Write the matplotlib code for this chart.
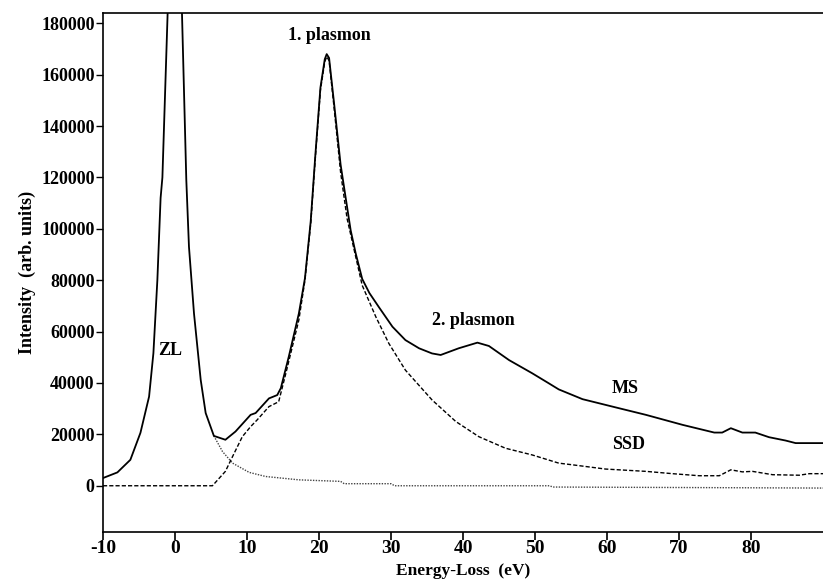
import matplotlib
matplotlib.use("Agg")
import matplotlib.pyplot as plt

plt.rcParams['font.family'] = ['Liberation Serif', 'DejaVu Serif']
plt.rcParams['font.weight'] = 'bold'
plt.rcParams['axes.unicode_minus'] = False

# Multiple scattering spectrum (MS)
ms_x = [-10.0, -8.0, -6.2, -4.8, -3.6, -3.0, -2.45, -2.0, -1.75, -1.0, 0.0, 0.95, 1.57, 1.94, 2.64, 3.57, 4.26,
        5.4, 7.0, 8.4, 10.5, 11.2, 13.05, 14.2, 14.7, 15.8, 17.2, 18.05, 18.85, 19.5, 20.2, 20.8, 21.07, 21.4,
        22.1, 23.0, 23.9, 24.4, 25.1, 26.0, 27.0, 28.3, 30.2, 32.0, 33.9, 35.7, 36.9, 39.4, 42.0, 43.6, 46.4, 49.6, 51.9,
        53.3, 56.6, 61.2, 65.4, 70.5, 74.9, 76.0, 77.2, 78.8, 80.6, 82.5, 84.8, 86.2, 90.0]
ms_y = [3000, 5200, 10100, 20600, 34700, 51600, 80000, 112000, 120000, 186000, 260000, 186000, 119000, 93000, 67000, 41200, 28300,
        19400, 17900, 21100, 27600, 28300, 34000, 35300, 38000, 50200, 67000, 80800, 103000, 129000, 155000, 166000, 168000, 166500,
        148700, 125000, 108500, 99400, 90400, 80500, 75000, 69600, 61900, 56700, 53500, 51500, 50900, 53500, 55700, 54400, 48900, 43800, 39900,
        37500, 33700, 30500, 27600, 23700, 20700, 20700, 22400, 20700, 20700, 18900, 17600, 16600, 16600]

# Single scattering distribution (SSD)
ssd_x = [-10.0, 5.2, 7.0, 8.0, 9.35, 10.5, 11.4, 13.05, 14.4, 15.4, 17.2, 18.05, 18.85, 19.5, 20.2, 20.8, 21.07, 21.4,
         22.1, 23.0, 23.9, 24.9, 26.0, 27.9, 29.7, 32.0, 35.7, 39.0, 42.2, 45.9, 49.6, 53.3, 55.2, 59.8,
         65.4, 69.1, 72.8, 75.6, 77.2, 78.8, 80.2, 83.0, 86.7, 88.1, 90.0]
ssd_y = [0, 0, 5600, 11400, 19100, 23000, 25600, 30800, 32700, 43800, 64500, 80000, 102000, 128000, 154000, 165000, 167000, 165500,
         147000, 122000, 104000, 91600, 78000, 65700, 55400, 45000, 33400, 25000, 19100, 14600, 12000, 8800, 8150, 6500,
         5600, 4700, 3900, 3900, 6200, 5400, 5600, 4300, 4100, 4700, 4700]

# Zero-loss tail (ZL)
zl_x = [5.4, 6.6, 8.0, 10.3, 12.6, 17.2, 23.0, 23.5, 30.0, 30.5, 52.0, 52.5, 90.0]
zl_y = [19400, 13300, 8800, 5200, 3600, 2300, 1700, 800, 800, 0, 0, -500, -900]

x_ticks = [-10, 0, 10, 20, 30, 40, 50, 60, 70, 80]
y_ticks = [0, 20000, 40000, 60000, 80000, 100000, 120000, 140000, 160000, 180000]

fig = plt.figure(figsize=(8.23, 5.80), dpi=100)
ax = fig.add_axes([103/823, 1 - 532/580, 1 - 103/823, (532 - 13)/580])

ax.plot(zl_x, zl_y, color='#444444', lw=1.0, linestyle=(0, (1, 1)))
ax.plot(ssd_x, ssd_y, color='black', lw=1.0, linestyle=(0, (3, 1.5)))
ax.plot(ms_x, ms_y, color='black', lw=1.3)

ax.set_xlim(-10, 90)
ax.set_ylim(-18000, 184000)
ax.set_xticks(x_ticks)
ax.set_yticks(y_ticks)
ax.tick_params(axis='x', direction='out', length=6, width=1.2, labelsize=14, pad=0)
ax.tick_params(axis='y', direction='out', length=5, width=1.0, labelsize=13, pad=1)
for lab in ax.get_xticklabels() + ax.get_yticklabels():
    lab.set_fontweight('bold')
ax.spines['right'].set_visible(False)
for s in ['left', 'bottom', 'top']:
    ax.spines[s].set_linewidth(1.2)

fig.text((103 + 360) / 823, 1 / 580, 'Energy-Loss  (eV)', ha='center', va='bottom',
         fontsize=12.5, fontweight='bold')
ax.set_ylabel('Intensity  (arb. units)', fontsize=13, fontweight='bold', labelpad=4)

ax.text(21.5, 175100, '1. plasmon', ha='center', va='center', fontsize=13, fontweight='bold')
ax.text(41.5, 64500, '2. plasmon', ha='center', va='center', fontsize=13, fontweight='bold')
ax.text(-0.7, 52800, 'ZL', ha='center', va='center', fontsize=13, fontweight='bold')
ax.text(62.5, 37700, 'MS', ha='center', va='center', fontsize=13, fontweight='bold')
ax.text(63.0, 15900, 'SSD', ha='center', va='center', fontsize=13, fontweight='bold')

fig.savefig('out.png', dpi=100)
